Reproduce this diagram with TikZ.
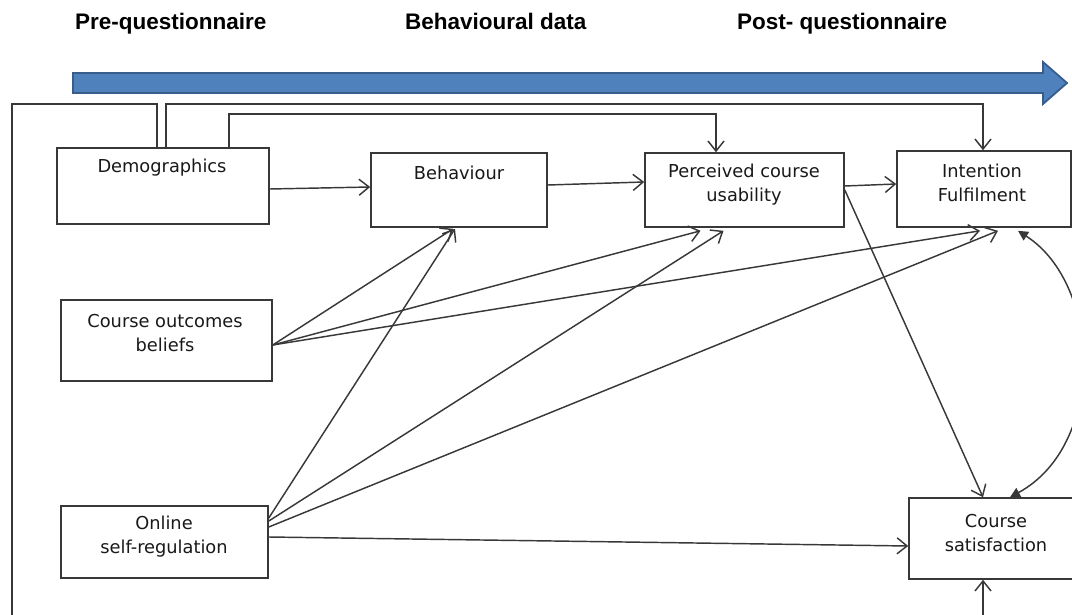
\documentclass[tikz,border=0pt]{standalone}
\usepackage{fontspec}
\setmainfont{DejaVu Sans}
\newfontfamily\titlefont{Liberation Sans}
\usetikzlibrary{arrows.meta,calc}
\definecolor{arrowfill}{HTML}{4F81BD}
\definecolor{arrowline}{HTML}{385D8A}
\definecolor{linegray}{HTML}{383838}
\begin{document}
\begin{tikzpicture}[x=1pt,y=-1pt,
  box/.style={draw=linegray, line width=1.6pt, rectangle, inner sep=0pt, fill=white},
  lbl/.style={font=\fontsize{17.8}{24}\selectfont, text=black!90, align=center, inner sep=0pt},
  ttl/.style={font=\titlefont\bfseries\fontsize{22.5}{26}\selectfont, anchor=base west, inner sep=0pt},
  conn/.style={draw=linegray, line width=1.45pt},
  arr/.style={conn, -{Straight Barb[length=10pt,width=16pt]}},
  dbl/.style={conn, {Triangle[length=10pt,width=10pt]}-{Triangle[length=10pt,width=10pt]}}]
\clip (0,0) rectangle (1072,615);
\fill[white] (0,0) rectangle (1072,615);

% titles
\node[ttl] (t1) at (75,30) {Pre-questionnaire};
\node[ttl] (t2) at (405,30) {Behavioural data};
\node[ttl] (t3) at (737,30) {Post- questionnaire};

% timeline arrow
\draw[fill=arrowfill, draw=arrowline, line width=1.8pt, line join=miter]
  (73,73) -- (1043,73) -- (1043,62) -- (1067,83) -- (1043,104) -- (1043,93) -- (73,93) -- cycle;

% boxes
\node[box, minimum width=212pt, minimum height=76pt] (demo) at (163,186) {};
\node[box, minimum width=176pt, minimum height=74pt] (beh) at (459,190) {};
\node[box, minimum width=199pt, minimum height=74pt] (pcu) at (744.5,190) {};
\node[box, minimum width=174pt, minimum height=76pt] (intf) at (984,189) {};
\node[box, minimum width=211pt, minimum height=81pt] (cob) at (166.5,340.5) {};
\node[box, minimum width=207pt, minimum height=72pt] (osr) at (164.5,542) {};
\node[box, minimum width=174pt, minimum height=81pt] (csat) at (996,538.5) {};

% labels
\node[lbl] (demoL) at (162,168) {Demographics};
\node[lbl] (behL) at (459,173) {Behaviour};
\node[lbl] (pcuL) at (744,185) {Perceived course\\usability};
\node[lbl] (intfL) at (982,183) {Intention\\Fulfilment};
\node[lbl] (cobL) at (165,333) {Course outcomes\\beliefs};
\node[lbl] (osrL) at (164,537) {Online\\self-regulation};
\node[lbl] (csatL) at (996,533) {Course\\satisfaction};

% loop coordinates
\coordinate (loopbl) at (12,615);
\coordinate (loopbr) at (983,615);

% top feedback lines
\draw[conn] ($(demo.north)+(-6,0)$) -- ++(0,-43) -| (loopbl);
\draw[arr] ($(demo.north)+(3,0)$) -- ++(0,-43) -| ($(intf.north)+(-1,0)$);
\draw[arr] ($(demo.north)+(66,0)$) -- ++(0,-33) -| ($(pcu.north)+(-28.5,0)$);
\draw[arr] (loopbr) -- ($(csat.south)+(-13,0)$);

% horizontal chain
\draw[arr] ($(demo.east)+(0,3)$) -- ($(beh.west)+(0,-3)$);
\draw[arr] ($(beh.east)+(0,-5)$) -- ($(pcu.west)+(0,-8)$);
\draw[arr] ($(pcu.east)+(0,-4)$) -- ($(intf.west)+(0,-5)$);
\draw[arr] (pcu.east) -- ($(csat.north)+(-13,0)$);

% course outcomes beliefs
\draw[arr] ($(cob.east)+(0,4.5)$) -- ($(beh.south)+(-6,1)$);
\draw[arr] ($(cob.east)+(0,4.5)$) -- ($(pcu.south)+(-44,3)$);
\draw[arr] ($(cob.east)+(0,4.5)$) -- ($(intf.south)+(-4,3)$);

% online self-regulation
\draw[arr] ($(osr.east)+(0,-24)$) -- ($(beh.south)+(-4,1)$);
\draw[arr] ($(osr.east)+(0,-21)$) -- ($(pcu.south)+(-21,3)$);
\draw[arr] ($(osr.east)+(0,-15)$) -- ($(intf.south)+(14,3)$);
\draw[arr] ($(osr.east)+(0,-5)$) -- ($(csat.west)+(0,7.5)$);

% double-headed curve
\draw[dbl] ($(intf.south)+(34,3)$) .. controls (1102,285) and (1106,445) .. ($(csat.north)+(14,0)$);
\end{tikzpicture}
\end{document}
